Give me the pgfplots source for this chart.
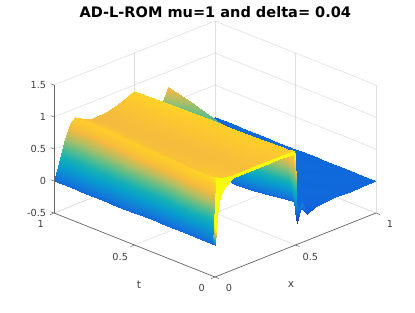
\documentclass[border=0pt]{standalone}
\usepackage{pgfplots}
\pgfplotsset{compat=1.18}
\usepackage{fontspec}
\setmainfont{DejaVu Sans}
\pgfplotsset{colormap={parula}{rgb255=(53,42,135) rgb255=(15,92,221) rgb255=(18,125,216) rgb255=(7,156,207) rgb255=(21,177,180) rgb255=(89,189,140) rgb255=(175,190,100) rgb255=(245,186,62) rgb255=(254,205,42) rgb255=(250,235,30) rgb255=(249,251,14)}}
\begin{document}
\begin{tikzpicture}[x=1pt,y=1pt]
\useasboundingbox (0,0) rectangle (311.25,234);
\begin{axis}[
  at={(161.25pt,50.25pt)}, anchor=origin,
  x={(120.75pt,48pt)}, y={(-120.75pt,48pt)}, z={(0pt,48pt)},
  xmin=0,xmax=1,ymin=0,ymax=1,zmin=-0.5,zmax=1.5,
  xtick={0,0.5,1},ytick={0,0.5,1},ztick={-0.5,0,0.5,1,1.5},
  xticklabels={0,0.5,1},yticklabels={0,0.5,1},zticklabels={-0.5,0,0.5,1,1.5},
  tick label style={font=\fontsize{7.3}{8}\selectfont,text=black!75},
  xticklabel style={xshift=4pt,yshift=-0.5pt},
  yticklabel style={xshift=-3.5pt,yshift=-0.5pt},
  zticklabel style={xshift=-0.5pt,yshift=-0.6pt},
  grid=major, grid style={black!13,line width=0.4pt},
  axis line style={draw=none},
  tick style={draw=none},
  tick align=outside, major tick length=2pt,
  colormap name=parula,
  point meta min=-0.187, point meta max=1.15,
  clip=false,
]
\addplot3[surf,shader=interp,z buffer=none,mesh/rows=15,mesh/cols=20,point meta=explicit] coordinates {
(1,1,0)[0] (.94,1,0)[0] (.88,1,0)[0] (.82,1,0)[0] (.76,1,0)[0] (.708,1,.76)[.76] (.675,1,.575)[.575] (.6,1,.3)[.3] (.54,1,.6)[.6] (.5,1,.906)[.906] (.46,1,.87)[.87] (.4,1,.81)[.81] (.32,1,.76)[.76] (.24,1,.74)[.74] (.2,1,.77)[.77] (.13,1,.87)[.87] (.0975,1,.8)[.8] (.065,1,.55)[.55] (.0325,1,.25)[.25] (0,1,0)[0]
(1,.9,0)[0] (.95,.9,0)[0] (.89,.9,0)[0] (.83,.9,0)[0] (.775,.9,0)[0] (.725,.9,.65)[.65] (.69,.9,.5)[.5] (.6,.9,.28)[.28] (.54,.9,.6)[.6] (.5,.9,.91)[.91] (.46,.9,.875)[.875] (.4,.9,.82)[.82] (.32,.9,.77)[.77] (.24,.9,.75)[.75] (.2,.9,.78)[.78] (.125,.9,.875)[.875] (.094,.9,.8)[.8] (.0625,.9,.55)[.55] (.031,.9,.25)[.25] (0,.9,0)[0]
(1,.8,0)[0] (.95,.8,0)[0] (.9,.8,0)[0] (.84,.8,0)[0] (.79,.8,0)[0] (.74,.8,.54)[.54] (.7,.8,.42)[.42] (.6,.8,.25)[.25] (.54,.8,.58)[.58] (.5,.8,.915)[.915] (.46,.8,.88)[.88] (.4,.8,.83)[.83] (.32,.8,.78)[.78] (.24,.8,.76)[.76] (.19,.8,.79)[.79] (.118,.8,.88)[.88] (.089,.8,.81)[.81] (.059,.8,.555)[.555] (.03,.8,.255)[.255] (0,.8,0)[0]
(1,.7,0)[0] (.95,.7,0)[0] (.9,.7,0)[0] (.85,.7,0)[0] (.8,.7,0)[0] (.75,.7,.42)[.42] (.71,.7,.3)[.3] (.58,.7,.22)[.22] (.53,.7,.55)[.55] (.5,.7,.92)[.91] (.46,.7,.885)[.875] (.4,.7,.84)[.83] (.32,.7,.79)[.78] (.24,.7,.77)[.76] (.176,.7,.8)[.79] (.11,.7,.885)[.885] (.083,.7,.814)[.814] (.055,.7,.557)[.557] (.028,.7,.257)[.257] (0,.7,0)[0]
(1,.6,0)[0] (.95,.6,.005)[.005] (.9,.6,0)[0] (.85,.6,0)[0] (.8,.6,0)[0] (.75,.6,.28)[.28] (.7,.6,.2)[.2] (.56,.6,.15)[.15] (.52,.6,.5)[.5] (.5,.6,.925)[.9] (.46,.6,.89)[.87] (.4,.6,.85)[.83] (.32,.6,.8)[.78] (.24,.6,.78)[.76] (.16,.6,.81)[.79] (.1,.6,.89)[.89] (.075,.6,.82)[.82] (.05,.6,.56)[.56] (.025,.6,.258)[.258] (0,.6,0)[0]
(1,.5,0)[0] (.95,.5,0)[0] (.9,.5,.005)[.005] (.85,.5,0)[0] (.8,.5,0)[0] (.74,.5,.1)[.1] (.68,.5,.05)[.05] (.53,.5,.05)[.05] (.51,.5,.47)[.47] (.5,.5,.93)[.9] (.46,.5,.895)[.87] (.4,.5,.85)[.83] (.32,.5,.81)[.78] (.24,.5,.79)[.76] (.144,.5,.82)[.79] (.09,.5,.9)[.89] (.0675,.5,.83)[.83] (.045,.5,.567)[.567] (.0225,.5,.26)[.26] (0,.5,0)[0]
(1,.4,0)[0] (.93,.4,0)[0] (.86,.4,.005)[.005] (.8,.4,0)[0] (.72,.4,0)[0] (.62,.4,0)[0] (.56,.4,0)[0] (.53,.4,0)[0] (.515,.4,.47)[.47] (.5,.4,.935)[.89] (.46,.4,.9)[.87] (.4,.4,.86)[.83] (.32,.4,.82)[.78] (.24,.4,.8)[.76] (.128,.4,.83)[.8] (.08,.4,.91)[.89] (.06,.4,.837)[.837] (.04,.4,.573)[.573] (.02,.4,.264)[.264] (0,.4,0)[0]
(1,.3,0)[0] (.93,.3,.005)[.005] (.86,.3,0)[0] (.8,.3,0)[0] (.72,.3,.005)[.005] (.62,.3,0)[0] (.56,.3,0)[0] (.54,.3,0)[0] (.52,.3,.47)[.47] (.5,.3,.94)[.89] (.46,.3,.905)[.87] (.4,.3,.87)[.83] (.32,.3,.83)[.78] (.24,.3,.82)[.76] (.112,.3,.84)[.8] (.07,.3,.92)[.89] (.0525,.3,.846)[.846] (.035,.3,.58)[.58] (.0175,.3,.267)[.267] (0,.3,0)[0]
(1,.2,0)[0] (.92,.2,0)[0] (.84,.2,.005)[.005] (.76,.2,0)[0] (.68,.2,.005)[.005] (.62,.2,0)[0] (.58,.2,.005)[.005] (.56,.2,0)[0] (.53,.2,.47)[.47] (.5,.2,.945)[.89] (.46,.2,.91)[.87] (.4,.2,.88)[.83] (.32,.2,.85)[.79] (.24,.2,.84)[.78] (.09,.2,.86)[.82] (.055,.2,.94)[.9] (.041,.2,.865)[.865] (.0275,.2,.592)[.592] (.014,.2,.273)[.273] (0,.2,0)[0]
(1,.08,0)[0] (.92,.08,.005)[.005] (.84,.08,0)[0] (.76,.08,.005)[.005] (.68,.08,0)[0] (.63,.08,-.01)[-.01] (.6,.08,.005)[.005] (.585,.08,0)[0] (.54,.08,.47)[.47] (.5,.08,.95)[.88] (.46,.08,.93)[.86] (.4,.08,.9)[.83] (.32,.08,.875)[.79] (.24,.08,.87)[.78] (.064,.08,.89)[.84] (.04,.08,.97)[.92] (.03,.08,.892)[.87] (.02,.08,.611)[.611] (.01,.08,.281)[.281] (0,.08,0)[0]
(1,.05,0)[0] (.92,.05,0)[0] (.84,.05,-.005)[-.005] (.75,.05,.005)[.005] (.64,.05,-.01)[-.01] (.6,.05,-.02)[-.02] (.57,.05,.01)[.01] (.55,.05,0)[0] (.525,.05,.48)[.48] (.5,.05,.955)[.88] (.46,.05,.935)[.87] (.4,.05,.91)[.84] (.32,.05,.89)[.81] (.24,.05,.89)[.8] (.052,.05,.91)[.86] (.032,.05,.99)[.94] (.024,.05,.911)[.89] (.016,.05,.624)[.624] (.008,.05,.287)[.287] (0,.05,0)[0]
(1,.02,0)[0] (.92,.02,0)[0] (.84,.02,0)[0] (.745,.02,0)[0] (.625,.02,-.01)[-.01] (.575,.02,-.04)[-.04] (.54,.02,.03)[.03] (.52,.02,0)[0] (.51,.02,.48)[.48] (.5,.02,.96)[.9] (.46,.02,.94)[.87] (.4,.02,.92)[.85] (.32,.02,.9)[.82] (.2,.02,.9)[.82] (.04,.02,.96)[.9] (.025,.02,1.02)[1.02] (.019,.02,.938)[.92] (.0125,.02,.643)[.643] (.006,.02,.296)[.296] (0,.02,0)[0]
(1,.012,0)[0] (.92,.012,0)[0] (.839,.012,-.005)[-.005] (.745,.012,0)[0] (.621,.012,-.02)[-.02] (.571,.012,-.06)[-.06] (.54,.012,.05)[.05] (.515,.012,-.12)[-.12] (.505,.012,.5)[.5] (.5,.012,.96)[.9] (.46,.012,.965)[.89] (.4,.012,.97)[.88] (.3,.012,.97)[.88] (.12,.012,.96)[.88] (.04,.012,1)[.96] (.02,.012,1.03)[1.03] (.015,.012,.95)[.95] (.01,.012,.65)[.65] (.005,.012,.3)[.3] (0,.012,0)[0]
(1,.01,0)[0] (.92,.01,0)[0] (.839,.01,-.005)[-.005] (.745,.01,0)[0] (.621,.01,-.02)[-.02] (.571,.01,-.06)[-.06] (.54,.01,.05)[.05] (.515,.01,-.12)[-.12] (.505,.01,.5)[.5] (.5,.01,.96)[1.15] (.46,.01,.965)[1.15] (.4,.01,.97)[1.15] (.3,.01,.97)[1.15] (.12,.01,.96)[1.15] (.04,.01,1)[1.15] (.02,.01,1.03)[1.15] (.015,.01,.95)[1.15] (.01,.01,.65)[1.15] (.005,.01,.3)[1.15] (0,.01,0)[0]
(1,0,0)[0] (.92,0,0)[0] (.839,0,-.01)[-.01] (.745,0,0)[0] (.621,0,-.03)[-.03] (.571,0,-.09)[-.09] (.54,0,.13)[.13] (.51,0,-.17)[-.17] (.505,0,.4)[.4] (.5,0,.92)[1.15] (.46,0,.93)[1.15] (.4,0,.94)[1.15] (.3,0,.94)[1.15] (.186,0,.94)[1.15] (.11,0,.93)[1.15] (.062,0,.85)[1.15] (.03,0,.74)[1.15] (.012,0,.44)[1.15] (.006,0,.25)[1.15] (0,0,0)[0]
};
\draw[black!60,line width=0.5pt] (axis cs:0,0,-0.5) -- (axis cs:1,0,-0.5);
\draw[black!60,line width=0.5pt] (axis cs:0,0,-0.5) -- (axis cs:0,1,-0.5);
\draw[black!60,line width=0.7pt] (axis cs:0,1,-0.5) -- (axis cs:0,1,1.5);
\draw[black!60,line width=0.4pt] (axis cs:0,0,-0.5) -- (axis cs:0,-0.025,-0.5);
\draw[black!60,line width=0.4pt] (axis cs:0.5,0,-0.5) -- (axis cs:0.5,-0.025,-0.5);
\draw[black!60,line width=0.4pt] (axis cs:1,0,-0.5) -- (axis cs:1,-0.025,-0.5);
\draw[black!60,line width=0.4pt] (axis cs:0,0,-0.5) -- (axis cs:-0.025,0,-0.5);
\draw[black!60,line width=0.4pt] (axis cs:0,0.5,-0.5) -- (axis cs:-0.025,0.5,-0.5);
\draw[black!60,line width=0.4pt] (axis cs:0,1,-0.5) -- (axis cs:-0.025,1,-0.5);
\draw[black!60,line width=0.4pt] (axis cs:0,1,-0.5) -- (axis cs:0,1.02,-0.5);
\draw[black!60,line width=0.4pt] (axis cs:0,1,0) -- (axis cs:0,1.02,0);
\draw[black!60,line width=0.4pt] (axis cs:0,1,0.5) -- (axis cs:0,1.02,0.5);
\draw[black!60,line width=0.4pt] (axis cs:0,1,1) -- (axis cs:0,1.02,1);
\draw[black!60,line width=0.4pt] (axis cs:0,1,1.5) -- (axis cs:0,1.02,1.5);
\end{axis}
\node[font=\fontsize{8}{9}\selectfont,text=black!75] at (218.25pt,20.25pt) {x};
\node[font=\fontsize{8}{9}\selectfont,text=black!75] at (104.25pt,20.25pt) {t};
\node[font=\bfseries\fontsize{10.9}{12}\selectfont,anchor=base] at (161.5pt,221pt) {AD-L-ROM mu=1 and delta= 0.04};
\end{tikzpicture}
\end{document}
